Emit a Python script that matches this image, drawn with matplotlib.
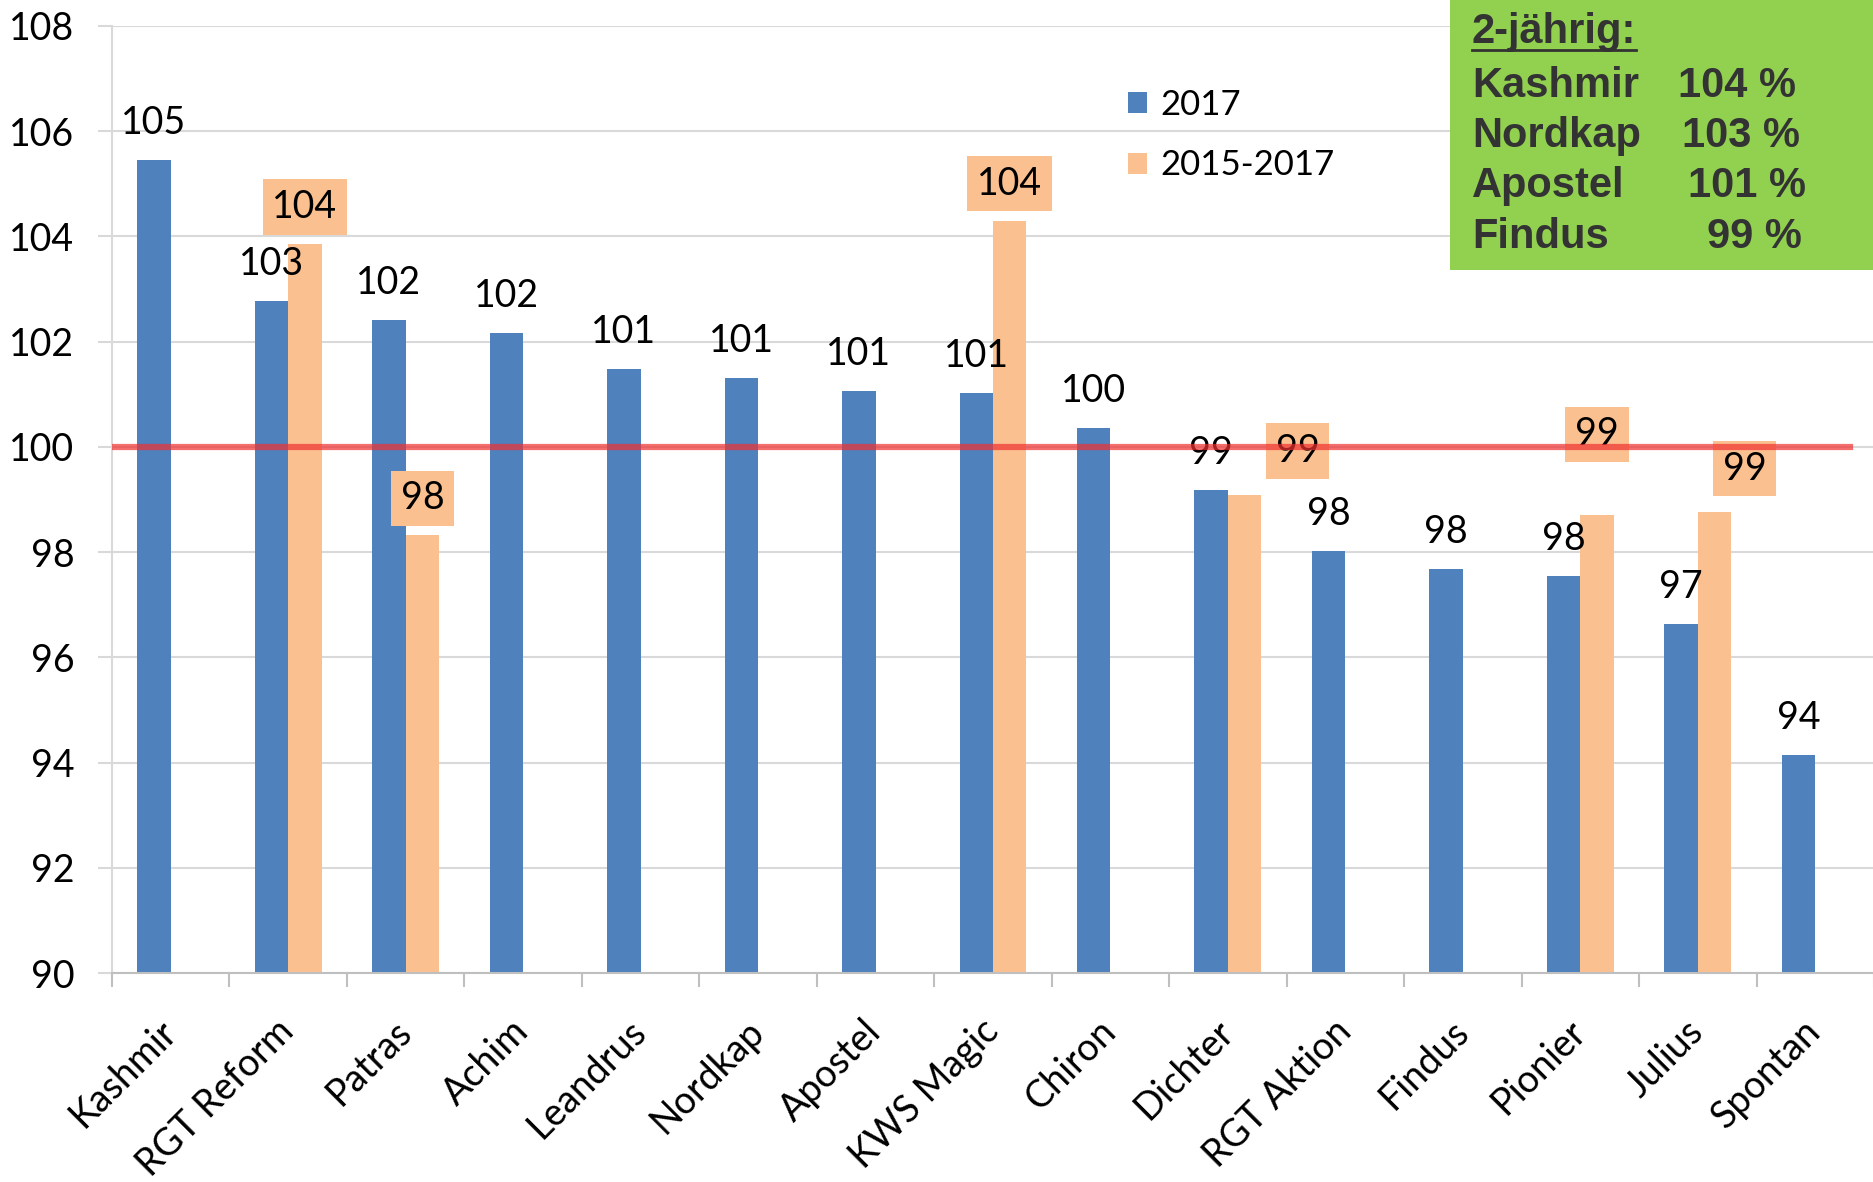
import matplotlib.pyplot as plt
import matplotlib.transforms as mtransforms
import numpy as np
from matplotlib.patches import Rectangle
from matplotlib.lines import Line2D

categories = ["Kashmir", "RGT Reform", "Patras", "Achim", "Leandrus", "Nordkap",
              "Apostel", "KWS Magic", "Chiron", "Dichter", "RGT Aktion", "Findus",
              "Pionier", "Julius", "Spontan"]
values_2017 = [105.45, 102.77, 102.41, 102.16, 101.48, 101.30, 101.07, 101.02,
               100.36, 99.18, 98.02, 97.68, 97.55, 96.64, 94.14]
values_1517 = [np.nan, 103.86, 98.32, np.nan, np.nan, np.nan, np.nan, 104.30,
               np.nan, 99.09, np.nan, np.nan, 98.70, 98.77, np.nan]
series_names = ["2017", "2015-2017"]
reference_level = 100

box_title = "2-jährig:"
box_names = ["Kashmir", "Nordkap", "Apostel", "Findus"]
box_values = ["104 %", "103 %", "101 %", "99 %"]

# label offsets (pixels) for the 2015-2017 labels, moved by hand in the original
orange_offsets = {9: (53, 44), 12: (0, 81), 13: (30, 43)}

BLUE = "#4F81BD"
ORANGE = "#FAC090"
GRID = "#D9D9D9"
W, H = 1874, 1182
FS = 27

plt.rcParams['font.family'] = ['Lato', 'DejaVu Sans']

fig = plt.figure(figsize=(W / 100, H / 100), dpi=100)
ax = fig.add_axes([112 / W, 1 - 973 / H, (W - 112) / W, (973 - 26) / H])

x = np.arange(len(categories))
w = 0.285
ax.bar(x - w / 2, values_2017, w, color=BLUE, label=series_names[0], zorder=2)
ax.bar(x + w / 2, values_1517, w, color=ORANGE, label=series_names[1], zorder=2)

for i, v in enumerate(values_2017):
    ax.annotate(f"{round(v)}", (x[i] - w / 2, v), xytext=(0, 37),
                textcoords="offset pixels", ha="center", va="center",
                fontsize=FS, zorder=3)
for i, v in enumerate(values_1517):
    if np.isnan(v):
        continue
    dx, dy = orange_offsets.get(i, (0, 37))
    ax.annotate(f"{round(v)}", (x[i] + w / 2, v), xytext=(dx, dy),
                textcoords="offset pixels", ha="center", va="center",
                fontsize=FS, zorder=3,
                bbox=dict(boxstyle="square,pad=0.26", fc=ORANGE, ec="none"))

ax.axhline(reference_level, xmin=0, xmax=(1850 - 112) / (W - 112),
           color="#F03030", alpha=0.7, lw=4.5, zorder=5)

ax.set_ylim(90, 108)
ax.set_yticks(range(90, 109, 2))
ax.set_xlim(-0.5, len(categories) - 0.5)
ax.set_xticks(x)
ax.set_xticklabels(categories, rotation=45, ha="right", va="center",
                   rotation_mode="anchor", fontsize=FS)
shift = mtransforms.ScaledTranslation(-10 / 100, 0, fig.dpi_scale_trans)
for lab in ax.get_xticklabels():
    lab.set_transform(lab.get_transform() + shift)
ax.set_xticks(np.arange(-0.5, len(categories), 1), minor=True)
ax.tick_params(axis="x", which="major", length=0, pad=38)
ax.tick_params(axis="x", which="minor", length=10, width=1.5, color="#BFBFBF")
ax.tick_params(axis="y", length=10, width=1.5, color=GRID, pad=17, labelsize=FS)
ax.grid(axis="y", color=GRID, lw=1.5, zorder=0)
ax.set_axisbelow(True)
for s in ["top", "right"]:
    ax.spines[s].set_visible(False)
ax.spines["left"].set_color(GRID)
ax.spines["left"].set_linewidth(1.5)
ax.spines["bottom"].set_color("#BFBFBF")
ax.spines["bottom"].set_linewidth(1.5)

ax.legend(loc="upper left", bbox_to_anchor=(1128 / W, 1 - 89 / H),
          bbox_transform=fig.transFigure, frameon=False, fontsize=25,
          handlelength=0.56, handleheight=0.56, handletextpad=0.38,
          labelspacing=0.82, borderpad=0, borderaxespad=0)

# green info box
fig.patches.append(Rectangle((1450 / W, 1 - 270 / H), (W - 1450) / W, 270 / H,
                             transform=fig.transFigure, fc="#92D050", ec="none",
                             zorder=10))
tcol = "#333333"
bfont = dict(fontsize=30, fontweight="bold", family="Liberation Sans", color=tcol,
             va="baseline", zorder=11)
title = fig.text(1472 / W, 1 - 43 / H, box_title, **bfont)
baselines = [97, 147, 197, 248]
value_left = [1678, 1682, 1688, 1707]
for name, val, b, xl in zip(box_names, box_values, baselines, value_left):
    fig.text(1472 / W, 1 - b / H, name, **bfont)
    fig.text(xl / W, 1 - b / H, val, **bfont)

fig.canvas.draw()
bb = title.get_window_extent()
uy = (H - 50) / H
fig.lines.append(Line2D([bb.x0 / W, bb.x1 / W], [uy, uy], transform=fig.transFigure,
                        color=tcol, lw=2, zorder=11))

fig.savefig("out.png", dpi=100)
